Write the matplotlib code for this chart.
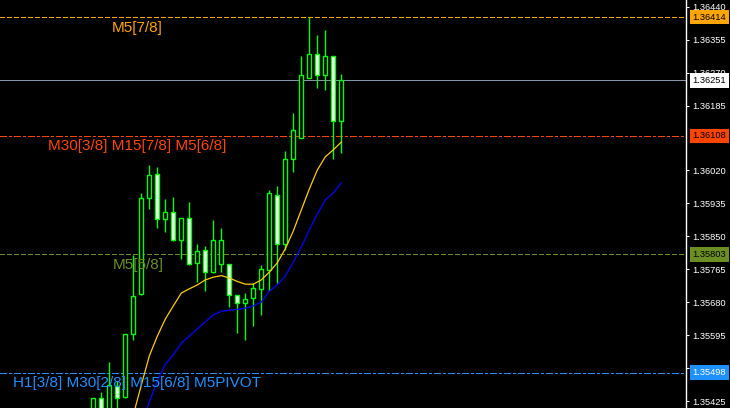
'''MT4-style EURUSD-like M5 chart with Murrey math levels'''
import numpy as np
import matplotlib
matplotlib.use('Agg')
import matplotlib.pyplot as plt
import matplotlib.transforms as mtransforms
from matplotlib import rcParams
rcParams.update({'font.family': ['Liberation Sans', 'DejaVu Sans'], 'lines.scale_dashes': False})

# candles, oldest first (open, high, low, close)
opens = [1.35376, 1.35434, 1.35397, 1.35464, 1.35435, 1.35598, 1.35700, 1.35947, 1.36010, 1.35893,
         1.35911, 1.35839, 1.35896, 1.35780, 1.35813, 1.35757, 1.35777, 1.35777, 1.35697, 1.35678,
         1.35690, 1.35713, 1.35762, 1.35955, 1.35829, 1.36048, 1.36102, 1.36256, 1.36318, 1.36264,
         1.36313, 1.36146]
highs = [1.35434, 1.35447, 1.35526, 1.35477, 1.35598, 1.35801, 1.35960, 1.36033, 1.36027, 1.35945,
         1.35950, 1.35896, 1.35937, 1.35829, 1.35824, 1.35891, 1.35870, 1.35777, 1.35697, 1.35702,
         1.35728, 1.35775, 1.35969, 1.35979, 1.36068, 1.36166, 1.36314, 1.36415, 1.36368, 1.36381,
         1.36313, 1.36267]
lows = [1.35363, 1.35376, 1.35389, 1.35397, 1.35433, 1.35581, 1.35698, 1.35920, 1.35871, 1.35860,
        1.35837, 1.35792, 1.35775, 1.35732, 1.35709, 1.35755, 1.35758, 1.35668, 1.35599, 1.35582,
        1.35619, 1.35647, 1.35709, 1.35730, 1.35814, 1.36016, 1.36102, 1.36256, 1.36232, 1.36225,
        1.36048, 1.36065]
closes = [1.35434, 1.35389, 1.35467, 1.35432, 1.35598, 1.35695, 1.35947, 1.36007, 1.35893, 1.35911,
          1.35839, 1.35896, 1.35777, 1.35811, 1.35757, 1.35839, 1.35839, 1.35697, 1.35677, 1.35687,
          1.35715, 1.35764, 1.35960, 1.35829, 1.36048, 1.36122, 1.36264, 1.36318, 1.36264, 1.36313,
          1.36146, 1.36251]

# moving averages
ma_fast = [1.35015, 1.35093, 1.35170, 1.35247, 1.35319, 1.35389, 1.35466, 1.35541, 1.35592, 1.35636,
           1.35670, 1.35703, 1.35714, 1.35724, 1.35737, 1.35744, 1.35748, 1.35742, 1.35733, 1.35726,
           1.35726, 1.35737, 1.35757, 1.35781, 1.35817, 1.35863, 1.35917, 1.35971, 1.36020, 1.36054,
           1.36072, 1.36092]
ma_slow = [1.34970, 1.35050, 1.35157, 1.35222, 1.35286, 1.35330, 1.35368, 1.35422, 1.35477, 1.35520,
           1.35544, 1.35574, 1.35592, 1.35611, 1.35629, 1.35647, 1.35656, 1.35659, 1.35661, 1.35664,
           1.35670, 1.35680, 1.35708, 1.35724, 1.35747, 1.35783, 1.35822, 1.35866, 1.35907, 1.35943,
           1.35961, 1.35987]

# murrey levels
lvl_prices = [1.36414, 1.36108, 1.35803, 1.35498]
lvl_labels = ['M5[7/8]', 'M30[3/8] M15[7/8] M5[6/8]', 'M5[5/8]', 'H1[3/8] M30[2/8] M15[6/8] M5PIVOT']
bid = 1.36251

# 1.36105 sits under the 1.36108 box in the reference, so it is left out
price_ticks = [1.36440, 1.36355, 1.36270, 1.36185, 1.36020, 1.35935, 1.35850,
               1.35765, 1.35680, 1.35595, 1.35510, 1.35425]

W, H = 730, 408
fig = plt.figure(figsize=(W / 100, H / 100), dpi=100, facecolor='black')
ax = fig.add_axes([0, 0, 686 / W, 1], facecolor='black')
n = len(opens)
x = np.arange(n)
ax.set_xlim(-93.3 / 8, (686 - 93.3) / 8)
ax.set_ylim(1.35407, 1.36458)

px = 0.72  # one pixel in points
green = '#00ff00'

# wicks then bodies
ax.vlines(x, lows, highs, color=green, lw=1.0, zorder=3)
o = np.array(opens); c = np.array(closes)
fill = ['black' if cc >= oo else 'white' for oo, cc in zip(o, c)]
ax.bar(x, np.abs(c - o), bottom=np.minimum(o, c), width=0.5, color=fill,
       edgecolor=green, linewidth=1.0, zorder=4)

ax.plot(x, ma_fast, color='#ffcc00', lw=0.9, zorder=5)
ax.plot(x, ma_slow, color='#0000ff', lw=0.9, zorder=5)

# level lines
lvl_colors = ['#ffa500', '#ff4500', '#6b8e23', '#1e90ff']
lvl_dash = [(0, (2.9, 1.7)), (0, (5, 2, 1.5, 2)), (0, (2.9, 1.7)), (0, (5, 2, 1.5, 2))]
for p, col, ls in zip(lvl_prices, lvl_colors, lvl_dash):
    ax.axhline(p, color=col, lw=px, ls=ls, zorder=2, antialiased=False)
ax.axhline(bid, color='#8595a8', lw=px, zorder=2, antialiased=False)

# level texts (pixel positions)
txt_pos = [(112, 28), (48, 146), (113, 265), (13, 383)]
for (tx, ty), s, col in zip(txt_pos, lvl_labels, lvl_colors):
    fig.text(tx / W, 1 - ty / H, s, color=col, fontsize=11, ha='left', va='center', zorder=6)

# right price scale
for s in ['top', 'bottom', 'left']:
    ax.spines[s].set_visible(False)
ax.spines['right'].set_color('white')
ax.spines['right'].set_linewidth(1)
ax.set_xticks([])
ax.yaxis.tick_right()
ax.set_yticks(price_ticks)
ax.set_yticklabels(['%.5f' % v for v in price_ticks])
ax.tick_params(axis='y', colors='white', length=2.2, width=px, pad=2.2, labelsize=6.7)

trans = mtransforms.blended_transform_factory(ax.transAxes, ax.transData)
box_cols = ['#ffa500', '#ff4500', '#6b8e23', '#1e90ff']
txt_cols = ['black', 'black', 'black', 'white']
for p, bc, tc in zip(lvl_prices + [bid], box_cols + ['white'], txt_cols + ['black']):
    ax.text(1.0 + 6.5 / 686, p, '%.5f' % p, transform=trans, color=tc, fontsize=6.7,
            ha='left', va='center', clip_on=False, zorder=10,
            bbox=dict(boxstyle='square,pad=0.3', fc=bc, ec='none'))

plt.savefig('out.png', dpi=100, facecolor='black')
